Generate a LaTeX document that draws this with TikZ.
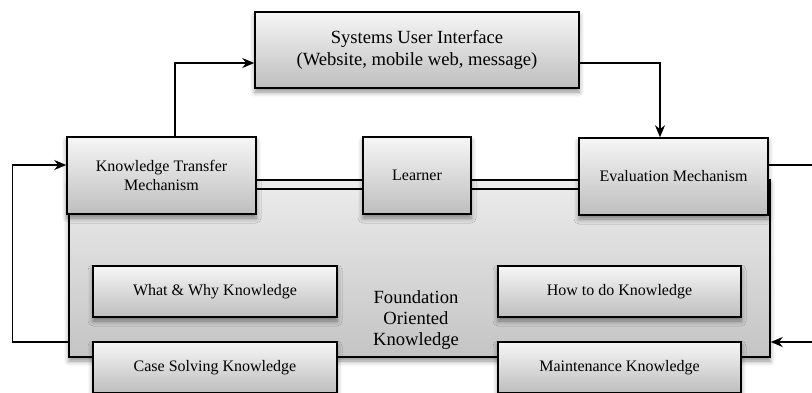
\documentclass[tikz,border=0pt]{standalone}
\usepackage{fontspec}
\setmainfont{Liberation Serif}
\usepackage{tikz}
\usetikzlibrary{arrows.meta,shadows,shadows.blur,positioning}
\definecolor{boxtop}{RGB}{246,246,246}
\definecolor{boxbot}{RGB}{190,190,190}
\definecolor{fndtop}{RGB}{236,236,236}
\definecolor{fndbot}{RGB}{196,196,196}
\tikzset{
  kbox/.style={draw=black, line width=1.5pt, top color=boxtop, bottom color=boxbot,
    align=center, inner sep=2pt, font=\fontsize{16}{19}\selectfont,
    blur shadow={shadow xshift=0pt, shadow yshift=-4pt, shadow blur radius=5pt, shadow opacity=45}},
  fndbox/.style={kbox, top color=fndtop, bottom color=fndbot},
  arrow/.style={line width=1.5pt, -{Stealth[length=12pt,width=10pt]}},
  link/.style={line width=1.5pt}
}

\begin{document}
\begin{tikzpicture}[x=1pt, y=-1pt]
\useasboundingbox (0,0) rectangle (812,392);
\clip (0,0) rectangle (812,392);
% foundation block behind everything
\node[fndbox, minimum width=701pt, minimum height=177pt] (fnd) at (419.5,268.5) {};
\node[font=\fontsize{18.6}{21}\selectfont, align=center] (fok) at (416,320) {Foundation\\Oriented\\Knowledge};

% top row
\node[kbox, minimum width=324pt, minimum height=76pt, font=\fontsize{18.6}{21.5}\selectfont] (sui) at (417,50)
  {Systems User Interface\\(Website, mobile web, message)};
\node[kbox, minimum width=189pt, minimum height=77pt] (ktm) at (161.5,175.5) {Knowledge Transfer\\Mechanism};
\node[kbox, minimum width=108pt, minimum height=77pt] (lrn) at (417,175.5) {Learner};
\node[kbox, minimum width=189pt, minimum height=77pt] (evm) at (673.5,176.5) {Evaluation Mechanism};

% knowledge boxes
\node[kbox, minimum width=244pt, minimum height=51pt] (what) at (215,291.5) {What \& Why Knowledge};
\node[kbox, minimum width=243pt, minimum height=51pt] (how) at (619.5,291.5) {How to do Knowledge};
\node[kbox, minimum width=244pt, minimum height=51pt] (case) at (215,367.5) {Case Solving Knowledge};
\node[kbox, minimum width=243pt, minimum height=51pt] (maint) at (619.5,367.5) {Maintenance Knowledge};

% connectors
\draw[arrow] ([xshift=13.5pt]ktm.north) |- ([yshift=-13pt]sui.west);
\draw[arrow] ([yshift=-13pt]sui.east) -| ([xshift=-13.5pt]evm.north);
\draw[link] ([yshift=-13.5pt]ktm.east) -- ([yshift=-13.5pt]lrn.west);
\draw[link] ([yshift=-13.5pt]lrn.east) -- ([yshift=-12.5pt]evm.west);
\draw[arrow] ([yshift=-73.5pt]fnd.west) -- ++(-56,0) |- ([yshift=10.5pt]ktm.west);
\draw[arrow] ([yshift=11.5pt]evm.east) -- ++(50,0) |- ([yshift=-73.5pt]fnd.east);
\end{tikzpicture}
\end{document}
